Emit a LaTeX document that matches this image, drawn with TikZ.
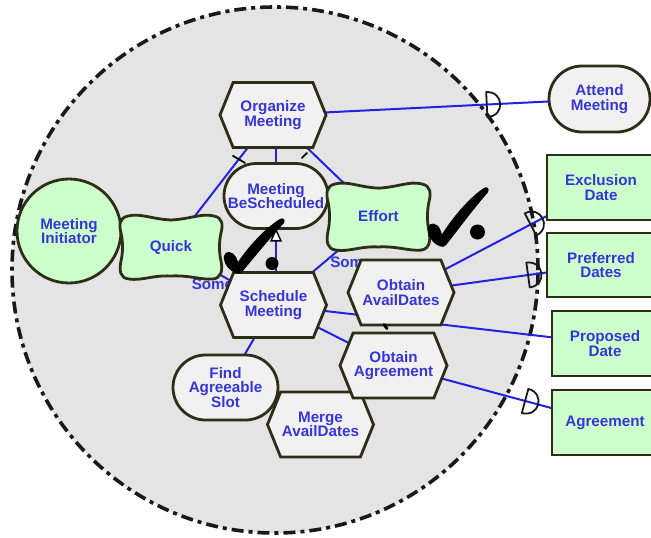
\documentclass[tikz,border=0pt]{standalone}
\usepackage{fontspec}
\setmainfont{Liberation Sans}
\usetikzlibrary{shapes.symbols,shapes.misc,calc}

\pgfdeclarelayer{backdrop}
\pgfdeclarelayer{links}
\pgfsetlayers{backdrop,links,main}

\definecolor{boundaryfill}{HTML}{E4E4E4}
\definecolor{elemfill}{HTML}{F1F1F1}
\definecolor{softfill}{HTML}{CCFFCC}
\definecolor{edgeink}{HTML}{2E2E16}
\definecolor{labelblue}{HTML}{3636D8}
\definecolor{linkblue}{HTML}{2222E0}

\tikzset{
  every node/.style={font=\bfseries\fontsize{15.2}{14.5}\selectfont, text=labelblue,
    align=center, inner sep=0pt},
  elem/.style={draw=edgeink, line width=2.8pt, fill=elemfill},
  task/.style={elem, shape=signal, signal to=east and west,
    signal pointer angle=136, minimum width=106pt, minimum height=65pt},
  goal/.style={elem, rounded rectangle, minimum width=104pt, minimum height=65pt},
  resource/.style={draw=edgeink, line width=2.8pt, fill=softfill, rectangle,
    minimum width=106pt, minimum height=65pt},
  actor/.style={draw=edgeink, line width=2.8pt, fill=softfill, circle,
    minimum size=104pt},
  softline/.style={draw=edgeink, line width=2.8pt, fill=softfill},
  boundaryline/.style={draw=black!90, line width=3.6pt,
    dash pattern=on 12pt off 5pt on 4pt off 5pt},
  link/.style={draw=linkblue, line width=2pt},
  linklabel/.style={text=labelblue},
  inkmark/.style={draw=black, line width=2.4pt, line cap=round},
  dmark/.pic={\draw[black!90, line width=1.8pt, line join=round]
    (-5,-12.5) -- (-5,12.5) .. controls (13,12.5) and (13,-12.5) .. (-5,-12.5) -- cycle;}
}

% softgoal: pillow-shaped outline plus a named text node
% #1 name, #2 x, #3 y, #4 xscale, #5 yscale, #6 text
\newcommand\softgoal[6]{%
  \begin{scope}[shift={(#2,#3)}, xscale=#4, yscale=#5]
    \path[softline] (0,-27)
      .. controls (20,-28) and (30,-34) .. (43,-31)
      .. controls (52,-29) and (52,-22) .. (50,-14)
      .. controls (48,-6) and (48,6) .. (50,14)
      .. controls (52,24) and (50,31) .. (42,32)
      .. controls (30,33) and (18,28) .. (0,29)
      .. controls (-18,28) and (-30,34) .. (-42,32)
      .. controls (-51,31) and (-52,24) .. (-50,14)
      .. controls (-48,6) and (-48,-6) .. (-50,-14)
      .. controls (-52,-22) and (-52,-29) .. (-43,-31)
      .. controls (-30,-34) and (-20,-28) .. (0,-27) -- cycle;
  \end{scope}
  \node[minimum width=102pt*#4, minimum height=64pt*#5] (#1) at (#2,#3) {#6};
}

% hand-drawn satisfaction tick with its dot
% #1 x, #2 y (bottom of the tick), #3 yscale, #4 dot x, #5 dot y, #6 dot radius
\newcommand\satisfied[6]{%
  \begin{scope}[shift={(#1,#2)}, yscale=#3]
    \fill[black] (0,3) .. controls (-7,1) and (-13,-7) .. (-12,-14)
      .. controls (-11,-20) and (-3,-19) .. (0,-13)
      -- (2,-8)
      .. controls (14,-26) and (32,-44) .. (44,-51)
      .. controls (47,-53) and (50,-50) .. (48,-47)
      .. controls (33,-31) and (17,-11) .. (6,2)
      .. controls (4,4) and (2,4) .. (0,3) -- cycle;
  \end{scope}
  \fill[black] (#4,#5) circle[radius=#6pt];
}

\begin{document}
\begin{tikzpicture}[x=1pt, y=-1pt]
\useasboundingbox (0,0) rectangle (651,538);

% actor boundary
\begin{pgfonlayer}{backdrop}
  \fill[white] (0,0) rectangle (651,538);
  \fill[boundaryfill] (275,270) circle[radius=263pt];
  \path[boundaryline] (275,270) circle[radius=263pt];
\end{pgfonlayer}

% elements
\node[actor] (mi) at (69,231) {Meeting\\Initiator};
\softgoal{quick}{171}{247}{1}{1}{Quick}
\node[task] (om) at (273,115) {Organize\\Meeting};
\node[goal] (mbs) at (276,196) {Meeting\\BeScheduled};
\softgoal{effort}{378.5}{216.5}{1.01}{1.05}{Effort}
\node[task] (sm) at (273.5,305) {Schedule\\Meeting};
\node[task] (oad) at (401,292.5) {Obtain\\AvailDates};
\node[task] (mad) at (320.5,424.5) {Merge\\AvailDates};
\node[goal, minimum width=105pt] (fas) at (225.5,387.5) {Find\\Agreeable\\Slot};
\node[task, minimum width=107pt] (oag) at (393.5,365.5) {Obtain\\Agreement};

% outside elements
\node[goal, minimum width=101pt, minimum height=66pt] (am) at (599.5,99) {Attend\\Meeting};
\node[resource, minimum width=108pt] (ed) at (601,187.5) {Exclusion\\Date};
\node[resource, minimum width=108pt, minimum height=64pt] (pd) at (601,265) {Preferred\\Dates};
\node[resource] (prd) at (605,343.5) {Proposed\\Date};
\node[resource] (ag) at (605,422.5) {Agreement};

% links, drawn beneath the elements
\begin{pgfonlayer}{links}
  \draw[link] (om.center) -- pic[pos=0.67, sloped]{dmark} (am.center);
  \draw[link] (mbs.north |- om.south) -- (mbs.north);
  \draw[link] (om.center) -- (quick.center);
  \draw[link] (om.center) -- (effort.center);
  \draw[link] (mbs.south) -- (mbs.south |- sm.north);
  \draw[link] (quick.center) -- (sm.center);
  \draw[link] (effort.center) -- (sm.center);
  \draw[link] (sm.center) -- (oag.center);
  \draw[link] (sm.center) -- (fas.center);
  \draw[link] (sm.center) -- (prd.center);
  \draw[link] (oad.center) -- pic[pos=0.67, sloped]{dmark} (ed.center);
  \draw[link] (oad.center) -- pic[pos=0.66, sloped]{dmark} (pd.center);
  \draw[link] (oag.center) -- pic[pos=0.645, sloped]{dmark} (ag.center);
  \node[linklabel] (somequick) at (212.5,284) {Some};
  \node[linklabel] (someeffort) at (351,262) {Some};
\end{pgfonlayer}

% decomposition marks
\draw[black, line width=1.4pt, fill=white] (mbs.south) -- ++(-5,11) -- ++(10,0) -- cycle;
\draw[inkmark, line width=1.8pt] ([shift={(-40,7)}]om.south) -- ([shift={(-28,14)}]om.south);
\draw[inkmark, line width=1.8pt] ([shift={(29,9)}]om.south) -- ([shift={(34,4)}]om.south);
\draw[inkmark, line width=3pt] ([shift={(-17,32)}]oad.center) -- ([shift={(-14,36)}]oad.center);

% satisfaction labels
\satisfied{236}{270}{1}{272}{263.5}{6.5}
\satisfied{440}{243}{1.08}{477.5}{232}{7.5}

\end{tikzpicture}
\end{document}
